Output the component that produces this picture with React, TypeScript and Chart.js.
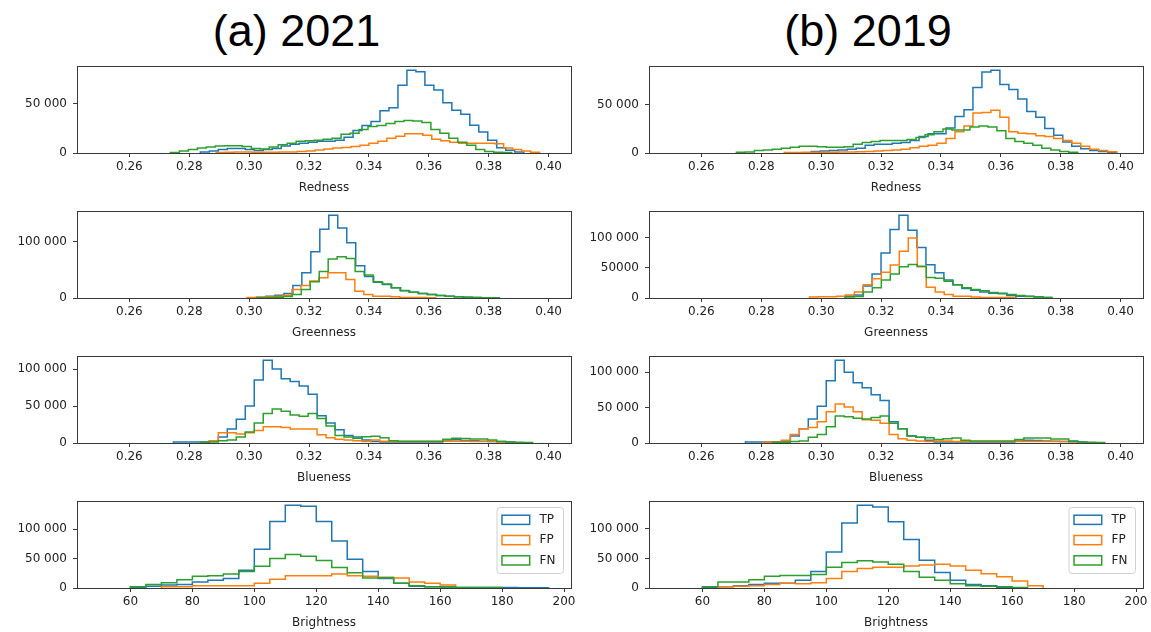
import React, { useEffect, useRef } from 'react';
import { Chart, registerables } from 'chart.js';

Chart.register(...registerables);

// ---------- shared data ----------
const seriesNames = ['TP', 'FP', 'FN'];
const seriesColors = ['#1f77b4', '#ff7f0e', '#2ca02c'];

const ratioBinWidth = 0.003;
const brightBinWidth = 5;

const ratioXTicks = [0.26, 0.28, 0.3, 0.32, 0.34, 0.36, 0.38, 0.4];
const ratioXLabels = ['0.26', '0.28', '0.30', '0.32', '0.34', '0.36', '0.38', '0.40'];
const brightXTicks = [60, 80, 100, 120, 140, 160, 180, 200];
const brightXLabels = ['60', '80', '100', '120', '140', '160', '180', '200'];

// ---------- Redness ----------
const red21Starts = [0.2837, 0.289, 0.2737];
const red21TP = [1000, 2000, 3500, 4500, 4500, 3500, 2500, 3500, 4500, 7000, 9000, 10000, 11000, 12000, 12000, 13000, 16000, 23000, 28000, 32000, 43000, 46000, 69000, 84300, 82600, 69000, 64000, 51000, 43500, 39400, 28200, 21400, 13000, 5400, 2700, 1000];
const red21FP = [500, 800, 1000, 1000, 800, 800, 800, 1000, 1000, 1500, 2000, 3000, 4000, 5000, 5500, 6500, 8000, 10000, 12000, 15000, 17000, 19500, 19500, 18000, 14000, 12500, 11000, 10000, 10000, 10000, 10000, 9500, 5000, 3500, 2000, 800];
const red21FN = [500, 2000, 3500, 5000, 6000, 7000, 7500, 7500, 6500, 4500, 4000, 6000, 8500, 10000, 12000, 12500, 13000, 14000, 15000, 19000, 20000, 24000, 27000, 28000, 30000, 32000, 33000, 32500, 31000, 24000, 20000, 15000, 11000, 8000, 3500, 1500, 800, 500];

const red19Starts = [0.2967, 0.2877, 0.2717];
const red19TP = [1500, 2000, 2500, 3000, 4000, 5000, 8000, 9000, 9000, 10000, 11000, 13000, 17000, 20000, 20000, 26000, 38000, 45000, 68000, 84000, 86000, 71000, 66000, 56000, 43000, 37000, 25500, 18500, 11500, 7000, 4500, 2500, 1500, 800];
const red19FP = [500, 600, 700, 800, 800, 800, 1000, 1000, 1200, 1500, 2000, 2500, 3000, 4000, 5500, 7000, 8000, 10000, 15000, 22000, 28000, 41500, 42000, 44500, 37000, 22000, 20500, 20000, 18000, 17000, 15000, 13000, 10000, 7000, 4000, 2500, 1200];
const red19FN = [800, 1000, 2500, 3000, 4000, 5000, 6000, 7000, 7000, 6500, 6000, 6000, 6500, 9000, 11000, 12000, 13000, 13000, 13000, 14000, 16000, 19000, 22000, 25000, 24000, 24000, 27000, 28000, 27000, 23000, 15000, 12000, 10000, 8000, 5000, 3000, 1500, 800];

// ---------- Greenness ----------
const grn21Starts = [0.2996, 0.2993, 0.3024];
const grn21TP = [500, 1500, 3000, 5000, 8000, 22000, 45000, 82000, 122000, 147000, 124000, 98000, 57000, 38000, 28000, 24000, 18000, 13000, 10000, 8000, 6000, 4500, 3000, 2000, 1500, 1000, 500, 300];
const grn21FP = [1000, 1500, 2000, 3000, 5000, 15000, 22000, 30000, 36000, 45000, 45000, 33000, 12000, 6000, 3000, 3000, 2000, 1000, 1000, 800, 500];
const grn21FN = [500, 1000, 1500, 2500, 6000, 15000, 29000, 47000, 69000, 73000, 70000, 47000, 41000, 29000, 25000, 18000, 13500, 10000, 8000, 6000, 4500, 3000, 2000, 1500, 1000, 500, 300];

const grn19Starts = [0.308, 0.2961, 0.3081];
const grn19TP = [3000, 5000, 20000, 40000, 75000, 114000, 138000, 113000, 84000, 55500, 42000, 30000, 22000, 16000, 13000, 10000, 8000, 8000, 4000, 3000, 3000, 2000, 1000];
const grn19FP = [1500, 2000, 2000, 3000, 5000, 10000, 22000, 32000, 43000, 55000, 78000, 100000, 52000, 18000, 10000, 6000, 3000, 3000, 1500, 1000, 1000, 1000, 800];
const grn19FN = [1500, 2500, 10000, 17000, 30000, 40000, 52000, 56000, 53000, 34000, 33000, 28000, 22000, 17000, 14000, 12000, 9000, 7000, 6000, 4000, 2500, 1500, 800];

// ---------- Blueness ----------
const blu21Starts = [0.2747, 0.2867, 0.2837];
const blu21TP = [1500, 1500, 1500, 1500, 3000, 8000, 19000, 32000, 50000, 85000, 112000, 100000, 87000, 83000, 77000, 66000, 37000, 27000, 18000, 10000, 8000, 4000, 2000, 1500, 1500, 1500, 1500, 1500, 1500, 1500, 4000, 4500, 3500, 3000, 2500, 2000, 2000, 1500];
const blu21FP = [3000, 14000, 14000, 12000, 14000, 17000, 22000, 22000, 21000, 19000, 19000, 19000, 11000, 7000, 5000, 4000, 3000, 2000, 4000, 2500, 2000, 2000, 2000, 2000, 2000, 2000, 2500, 2500, 2500, 2000, 2000, 2000, 1500];
const blu21FN = [1000, 1500, 3000, 4000, 8000, 15000, 27000, 40000, 46000, 43000, 38000, 36000, 40000, 33000, 23000, 10000, 8000, 6500, 8500, 9000, 7000, 3000, 2500, 2500, 2500, 2500, 2500, 5000, 6500, 6000, 5500, 5500, 4000, 2000, 1500, 1000, 800];

const blu19Starts = [0.2747, 0.2807, 0.2837];
const blu19TP = [1500, 1500, 1500, 1500, 3000, 10000, 20000, 34000, 52000, 88000, 117000, 100000, 85000, 78000, 68000, 60000, 30000, 20000, 10000, 8000, 4000, 1500, 1500, 1500, 1500, 1500, 1500, 1500, 1500, 1500, 3000, 4000, 3500, 3000, 2500, 2000, 3000, 1500];
const blu19FP = [1000, 1500, 4000, 12000, 20000, 22000, 30000, 44000, 55000, 51000, 44000, 33000, 32000, 28000, 12000, 6000, 4000, 3000, 2000, 3000, 3000, 2000, 2000, 2000, 2000, 2000, 2000, 2000, 2000, 2000, 2000, 2000, 2000, 2000, 1500];
const blu19FN = [1000, 1000, 2000, 3000, 8000, 12000, 23000, 38000, 37000, 35000, 34000, 36000, 38000, 28000, 20000, 10000, 8000, 7500, 5000, 6000, 7000, 4000, 3000, 3000, 3000, 3000, 3000, 5000, 7000, 7000, 7000, 5500, 5500, 2000, 1500, 1000, 800];

// ---------- Brightness ----------
const bri21Starts = [60, 70, 60];
const bri21TP = [1000, 3000, 5000, 6000, 10000, 13000, 16000, 30000, 66000, 113000, 141000, 139000, 113000, 80000, 49000, 28000, 16000, 8000, 3000, 2000, 1500, 1000, 1000, 800, 800, 500, 500];
const bri21FP = [2000, 2000, 4000, 4000, 4000, 4000, 8000, 15000, 21000, 21000, 21000, 24000, 21000, 20000, 18000, 17000, 10000, 8000, 5000];
const bri21FN = [2000, 6000, 9000, 14000, 20000, 21000, 24000, 28000, 37000, 50000, 57000, 54000, 47000, 35000, 26000, 17000, 18000, 8000, 4000, 2000, 1500, 1000, 800, 800];

const bri19Starts = [60, 65, 60];
const bri19TP = [500, 2000, 4000, 6000, 8000, 8000, 13000, 28000, 61000, 110000, 140000, 137000, 112000, 82000, 47000, 26000, 13000, 6000, 4000, 1000];
const bri19FP = [2000, 3000, 4000, 6000, 8000, 7000, 9000, 16000, 28000, 33000, 35000, 35000, 37000, 39000, 40000, 37000, 30000, 24000, 19000, 12000, 4000];
const bri19FN = [2000, 10000, 10000, 14000, 20000, 21000, 21000, 23000, 35000, 43000, 46000, 44000, 40000, 28000, 18000, 13000, 7000, 4000, 3000, 2000, 1000];

// ---------- y tick sets ----------
const yTicksLow = [0, 50000];
const yLabelsLow = ['0', '50 000'];
const yTicksHigh = [0, 100000];
const yLabelsHigh = ['0', '100 000'];
const yTicksFull = [0, 50000, 100000];
const yLabelsFull = ['0', '50 000', '100 000'];
const yLabelsFullNoSpace = ['0', '50000', '100 000'];

// ---------- layout (pixels) ----------
const COL_LEFT = [77, 649];
const ROW_TOP = [66, 211, 356, 501];
const PLOT_W = 494;
const PLOT_H = 87;
const Y_AXIS_W = 70;
const X_AXIS_H = 42;
const PAD_TOP = 4;
const PAD_RIGHT = 5;

const FONT = "'DejaVu Sans', sans-serif";

type Panel = {
  col: number;
  row: number;
  xLabel: string;
  xMin: number;
  xMax: number;
  xTicks: number[];
  xTickLabels: string[];
  binWidth: number;
  starts: number[];
  counts: number[][];
  yTicks: number[];
  yTickLabels: string[];
  legend: boolean;
};

const ratioRange = [0.2425, 0.4075];
const brightRange = [42.75, 202.25];

const panels: Panel[] = [
  { col: 0, row: 0, xLabel: 'Redness', xMin: ratioRange[0], xMax: ratioRange[1], xTicks: ratioXTicks, xTickLabels: ratioXLabels, binWidth: ratioBinWidth, starts: red21Starts, counts: [red21TP, red21FP, red21FN], yTicks: yTicksLow, yTickLabels: yLabelsLow, legend: false },
  { col: 1, row: 0, xLabel: 'Redness', xMin: ratioRange[0], xMax: ratioRange[1], xTicks: ratioXTicks, xTickLabels: ratioXLabels, binWidth: ratioBinWidth, starts: red19Starts, counts: [red19TP, red19FP, red19FN], yTicks: yTicksLow, yTickLabels: yLabelsLow, legend: false },
  { col: 0, row: 1, xLabel: 'Greenness', xMin: ratioRange[0], xMax: ratioRange[1], xTicks: ratioXTicks, xTickLabels: ratioXLabels, binWidth: ratioBinWidth, starts: grn21Starts, counts: [grn21TP, grn21FP, grn21FN], yTicks: yTicksHigh, yTickLabels: yLabelsHigh, legend: false },
  { col: 1, row: 1, xLabel: 'Greenness', xMin: ratioRange[0], xMax: ratioRange[1], xTicks: ratioXTicks, xTickLabels: ratioXLabels, binWidth: ratioBinWidth, starts: grn19Starts, counts: [grn19TP, grn19FP, grn19FN], yTicks: yTicksFull, yTickLabels: yLabelsFullNoSpace, legend: false },
  { col: 0, row: 2, xLabel: 'Blueness', xMin: ratioRange[0], xMax: ratioRange[1], xTicks: ratioXTicks, xTickLabels: ratioXLabels, binWidth: ratioBinWidth, starts: blu21Starts, counts: [blu21TP, blu21FP, blu21FN], yTicks: yTicksFull, yTickLabels: yLabelsFull, legend: false },
  { col: 1, row: 2, xLabel: 'Blueness', xMin: ratioRange[0], xMax: ratioRange[1], xTicks: ratioXTicks, xTickLabels: ratioXLabels, binWidth: ratioBinWidth, starts: blu19Starts, counts: [blu19TP, blu19FP, blu19FN], yTicks: yTicksFull, yTickLabels: yLabelsFull, legend: false },
  { col: 0, row: 3, xLabel: 'Brightness', xMin: brightRange[0], xMax: brightRange[1], xTicks: brightXTicks, xTickLabels: brightXLabels, binWidth: brightBinWidth, starts: bri21Starts, counts: [bri21TP, bri21FP, bri21FN], yTicks: yTicksFull, yTickLabels: yLabelsFull, legend: true },
  { col: 1, row: 3, xLabel: 'Brightness', xMin: brightRange[0], xMax: brightRange[1], xTicks: brightXTicks, xTickLabels: brightXLabels, binWidth: brightBinWidth, starts: bri19Starts, counts: [bri19TP, bri19FP, bri19FN], yTicks: yTicksFull, yTickLabels: yLabelsFull, legend: true },
];

// histogram outline points (bin edges -> counts)
function stepPoints(start: number, width: number, counts: number[]) {
  const pts = [{ x: start, y: 0 }];
  counts.forEach((c, i) => pts.push({ x: start + i * width, y: c }));
  pts.push({ x: start + counts.length * width, y: 0 });
  return pts;
}

const framePlugin = {
  id: 'frameAndLegend',
  beforeDatasetsDraw(chart: any) {
    const { ctx, chartArea } = chart;
    ctx.save();
    ctx.strokeStyle = '#3a3a3a';
    ctx.lineWidth = 1;
    ctx.strokeRect(
      Math.round(chartArea.left) + 0.5,
      Math.round(chartArea.top) + 0.5,
      Math.round(chartArea.right - chartArea.left),
      Math.round(chartArea.bottom - chartArea.top)
    );
    ctx.restore();
  },
  afterDraw(chart: any, _args: any, opts: any) {
    if (!opts || !opts.show) return;
    const { ctx, chartArea } = chart;
    const bw = 66.5;
    const bh = 66;
    const bx = chartArea.right - 7.5 - bw;
    const by = chartArea.top + 6.5;
    ctx.save();
    ctx.beginPath();
    if (ctx.roundRect) ctx.roundRect(bx, by, bw, bh, 3);
    else ctx.rect(bx, by, bw, bh);
    ctx.fillStyle = 'rgba(255,255,255,0.8)';
    ctx.fill();
    ctx.strokeStyle = '#d0d0d0';
    ctx.lineWidth = 1;
    ctx.stroke();
    ctx.font = `12px ${FONT}`;
    ctx.textBaseline = 'middle';
    ctx.textAlign = 'left';
    seriesNames.forEach((name, i) => {
      const cy = by + 12.3 + i * 20.3;
      ctx.strokeStyle = seriesColors[i];
      ctx.lineWidth = 1.5;
      ctx.strokeRect(bx + 5, cy - 4.6, 27.7, 9.2);
      ctx.fillStyle = '#222';
      ctx.fillText(name, bx + 42.5, cy);
    });
    ctx.restore();
  },
};

function HistPanel({ panel }: { panel: Panel }) {
  const ref = useRef<HTMLCanvasElement>(null);
  const width = Y_AXIS_W + PLOT_W + PAD_RIGHT;
  const height = PAD_TOP + PLOT_H + X_AXIS_H;
  const left = COL_LEFT[panel.col] - Y_AXIS_W;
  const top = ROW_TOP[panel.row] - PAD_TOP;

  useEffect(() => {
    if (!ref.current) return;
    const allCounts = panel.counts.flat();
    const yMax = Math.max(...allCounts) * 1.05;
    const tickFont = { family: FONT, size: 12 };
    const chart = new Chart(ref.current, {
      type: 'line',
      data: {
        datasets: panel.counts.map((c, s) => ({
          label: seriesNames[s],
          data: stepPoints(panel.starts[s], panel.binWidth, c),
          borderColor: seriesColors[s],
          backgroundColor: seriesColors[s],
          borderWidth: 1.5,
          pointRadius: 0,
          // horizontal at the previous count, then vertical at the next edge
          stepped: 'before' as const,
          fill: false,
          order: 3 - s,
        })),
      },
      options: {
        animation: false,
        responsive: false,
        events: [],
        layout: { padding: { top: PAD_TOP, right: PAD_RIGHT, left: 0, bottom: 0 } },
        plugins: {
          legend: { display: false },
          tooltip: { enabled: false },
          frameAndLegend: { show: panel.legend },
        } as any,
        scales: {
          x: {
            type: 'linear',
            min: panel.xMin,
            max: panel.xMax,
            afterBuildTicks: (scale: any) => {
              scale.ticks = panel.xTicks.map((v) => ({ value: v }));
            },
            afterFit: (scale: any) => {
              scale.height = X_AXIS_H;
              scale.paddingLeft = 0;
              scale.paddingRight = 0;
            },
            ticks: {
              autoSkip: false,
              maxRotation: 0,
              padding: 3,
              color: '#222',
              font: tickFont,
              callback: (_v: any, i: number) => panel.xTickLabels[i],
            },
            grid: { drawOnChartArea: false, drawTicks: true, tickLength: 4, color: '#3a3a3a' },
            border: { display: false },
            title: { display: true, text: panel.xLabel, color: '#222', font: tickFont, padding: { top: 0, bottom: 0 } },
          },
          y: {
            type: 'linear',
            min: 0,
            max: yMax,
            afterBuildTicks: (scale: any) => {
              scale.ticks = panel.yTicks.map((v) => ({ value: v }));
            },
            afterFit: (scale: any) => {
              scale.width = Y_AXIS_W;
              scale.paddingTop = 0;
              scale.paddingBottom = 0;
            },
            ticks: {
              autoSkip: false,
              padding: 6,
              color: '#222',
              font: tickFont,
              callback: (_v: any, i: number) => panel.yTickLabels[i],
            },
            grid: { drawOnChartArea: false, drawTicks: true, tickLength: 4, color: '#3a3a3a' },
            border: { display: false },
          },
        },
      } as any,
      plugins: [framePlugin],
    });
    return () => chart.destroy();
  }, []);

  return (
    <canvas
      ref={ref}
      width={width}
      height={height}
      style={{ position: 'absolute', left, top, width, height }}
    />
  );
}

const titleStyle: React.CSSProperties = {
  position: 'absolute',
  top: 8,
  width: 400,
  textAlign: 'center',
  fontFamily: "'Liberation Sans', Arial, sans-serif",
  fontSize: 45,
  lineHeight: 1,
  color: '#000',
  whiteSpace: 'nowrap',
};

export default function App() {
  return (
    <div style={{ position: 'absolute', left: 0, top: 0, width: 1151, height: 632, background: '#fff', overflow: 'hidden' }}>
      <div style={{ ...titleStyle, left: 296.5 - 200 }}>(a) 2021</div>
      <div style={{ ...titleStyle, left: 868 - 200 }}>(b) 2019</div>
      {panels.map((p, i) => (
        <HistPanel key={i} panel={p} />
      ))}
    </div>
  );
}
